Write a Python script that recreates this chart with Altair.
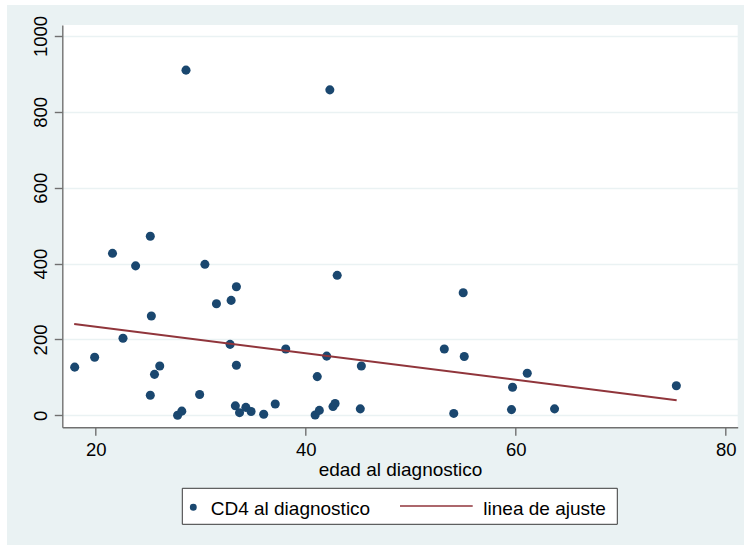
import altair as alt
import pandas as pd

# ---- data ----
edad = [18.0, 19.9, 21.6, 22.6, 23.8, 25.2, 25.3, 25.2, 25.6, 26.1,
        27.8, 28.2, 28.6, 29.9, 30.4, 31.5, 32.8, 32.9, 33.4, 33.4,
        33.3, 33.7, 34.3, 34.8, 36.0, 37.1, 38.1, 40.9, 41.3, 41.1,
        42.0, 42.3, 42.6, 42.8, 43.0, 45.3, 45.2, 53.2, 54.1, 55.0,
        55.1, 59.7, 59.6, 61.1, 63.7, 75.3]
cd4 = [127, 153, 427, 203, 394, 472, 262, 53, 108, 130,
       0, 11, 910, 55, 398, 294, 187, 303, 339, 132,
       25, 7, 21, 10, 3, 30, 175, 1, 13, 102,
       156, 858, 23, 31, 369, 130, 17, 175, 5, 323,
       155, 74, 15, 111, 17, 78]
fit_edad = [17.95, 75.33]
fit_cd4 = [241, 40]
series = ["CD4 al diagnostico", "linea de ajuste"]
x_ticks = [20, 40, 60, 80]
y_ticks = [0, 200, 400, 600, 800, 1000]
x_title = "edad al diagnostico"

NAVY = "#1A476F"
MAROON = "#90353B"
BG = "#EAF2F3"
AXIS = "#707070"
FONT = "Liberation Sans"

W, H = 675.4, 402.3

pts = pd.DataFrame({"edad": edad, "cd4": cd4})
fit = pd.DataFrame({"edad": fit_edad, "cd4": fit_cd4})

xscale = alt.Scale(domain=[16.819, 81.143], nice=False, zero=False)
yscale = alt.Scale(domain=[-31.6, 1029], nice=False, zero=False)

xaxis = alt.Axis(title=x_title, values=x_ticks, grid=False, labelAngle=0,
                 format="d", labelFontSize=18.5, titleFontSize=19,
                 labelPadding=5, titlePadding=2, titleFontWeight="normal")
yaxis = alt.Axis(title=None, values=y_ticks, grid=True, gridColor=BG,
                 gridWidth=1.5, labelAngle=270, labelFontSize=18.5,
                 format="d", labelPadding=4)

points = alt.Chart(pts).mark_circle(size=82, color=NAVY, opacity=1).encode(
    x=alt.X("edad:Q", scale=xscale, axis=xaxis),
    y=alt.Y("cd4:Q", scale=yscale, axis=yaxis),
)
line = alt.Chart(fit).mark_line(color=MAROON, strokeWidth=2).encode(
    x="edad:Q", y="cd4:Q"
)

one = pd.DataFrame({"k": [0]})
# white outer margin (left / top)
strip_left = alt.Chart(one).mark_rect(color="white").encode(
    x=alt.value(-62.3), x2=alt.value(-55.3), y=alt.value(-25), y2=alt.value(520))
strip_top = alt.Chart(one).mark_rect(color="white").encode(
    x=alt.value(-62.3), x2=alt.value(681.7), y=alt.value(-25), y2=alt.value(-20))

# legend
leg_df = pd.DataFrame({"label": series})
leg_box = alt.Chart(one).mark_rect(fill="white", stroke="#3a3a3a", strokeWidth=1).encode(
    x=alt.value(120), x2=alt.value(555), y=alt.value(463.3), y2=alt.value(499.3))
leg_dot = alt.Chart(one).mark_circle(size=48, color=NAVY, opacity=1).encode(
    x=alt.value(131), y=alt.value(482.3))
leg_rule = alt.Chart(one).mark_rule(color=MAROON, strokeWidth=1.6).encode(
    x=alt.value(337.7), x2=alt.value(410.4), y=alt.value(481))
leg_t1 = alt.Chart(leg_df).transform_filter(alt.datum.label == series[0]).mark_text(
    align="left", baseline="alphabetic", fontSize=19, font=FONT, color="black").encode(
    x=alt.value(148.4), y=alt.value(490), text="label:N")
leg_t2 = alt.Chart(leg_df).transform_filter(alt.datum.label == series[1]).mark_text(
    align="left", baseline="alphabetic", fontSize=19, font=FONT, color="black").encode(
    x=alt.value(421), y=alt.value(490), text="label:N")

chart = alt.layer(
    strip_left, strip_top, points, line, leg_box, leg_dot, leg_rule, leg_t1, leg_t2
).properties(
    width=W, height=H,
    autosize=alt.AutoSizeParams(type="none"),
    padding={"left": 62.3, "top": 25, "right": 6.3, "bottom": 117.7},
    background=BG,
).configure_view(
    fill="white", stroke=None
).configure_axis(
    labelFont=FONT, titleFont=FONT, labelColor="black", titleColor="black",
    domainColor=AXIS, domainWidth=1.4, tickColor=AXIS, tickWidth=1.4,
    tickSize=8,
)

chart.save("out.html", embed_options={"renderer": "svg", "actions": False})
